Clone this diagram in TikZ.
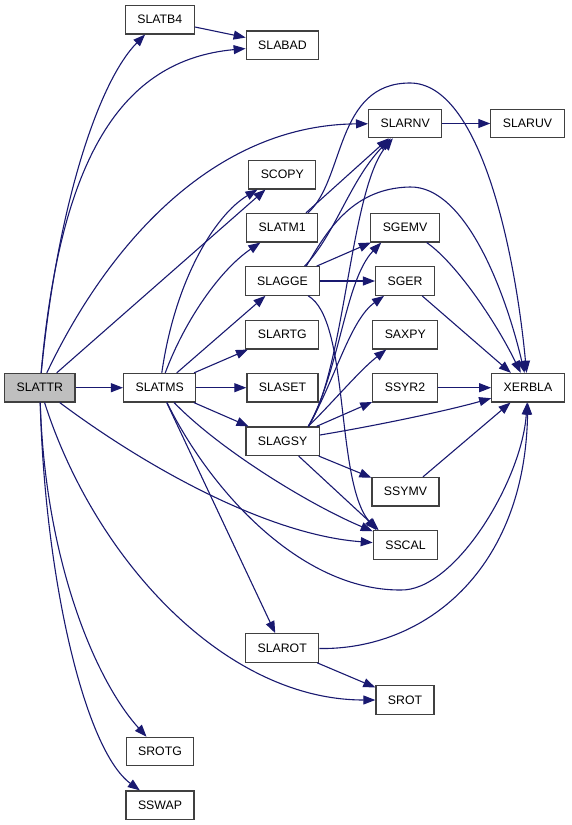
\documentclass[tikz,border=0pt]{standalone}
\usepackage{fontspec}
\setmainfont{Liberation Sans}
\usetikzlibrary{arrows.meta}
\definecolor{edgeblue}{RGB}{25,25,112}
\definecolor{rootgray}{RGB}{191,191,191}
\definecolor{boxline}{RGB}{64,64,64}
\tikzset{
    fn/.style={draw=boxline, line width=1.2pt, fill=white, minimum height=28.5pt,
        inner xsep=12pt, inner ysep=0pt, font=\fontsize{12.3}{14}\selectfont},
    callto/.style={draw=edgeblue, line width=1.1pt, -{Triangle[length=12pt,width=9pt]}}
}
\begin{document}
\begin{tikzpicture}[x=1pt, y=-1pt]
        \useasboundingbox (0,0) rectangle (571,825);
        \node[fn, fill=rootgray] (slattr) at (39.8,387.7) {SLATTR};
        \node[fn] (slatb4) at (159.8,19.7) {SLATB4};
        \node[fn] (slabad) at (282.5,45.2) {SLABAD};
        \node[fn] (slarnv) at (405.2,123.5) {SLARNV};
        \node[fn] (slaruv) at (527.5,123.5) {SLARUV};
        \node[fn] (scopy) at (282.3,174.7) {SCOPY};
        \node[fn] (slatm1) at (282.2,227.7) {SLATM1};
        \node[fn] (slagge) at (282.5,281) {SLAGGE};
        \node[fn] (slartg) at (282.3,334.7) {SLARTG};
        \node[fn] (slatms) at (159.7,387.7) {SLATMS};
        \node[fn] (slaset) at (282.5,387.7) {SLASET};
        \node[fn] (slagsy) at (282.6,441.2) {SLAGSY};
        \node[fn] (sgemv) at (405,227.7) {SGEMV};
        \node[fn] (sger) at (405,281) {SGER};
        \node[fn] (saxpy) at (405.3,334.7) {SAXPY};
        \node[fn] (ssyr2) at (405,387.7) {SSYR2};
        \node[fn] (xerbla) at (528,387.7) {XERBLA};
        \node[fn] (ssymv) at (405.5,491.7) {SSYMV};
        \node[fn] (sscal) at (405.5,545) {SSCAL};
        \node[fn] (slarot) at (282.2,648) {SLAROT};
        \node[fn] (srot) at (405,700) {SROT};
        \node[fn] (srotg) at (160,751.5) {SROTG};
        \node[fn] (sswap) at (160,805.2) {SSWAP};

        \draw[callto] (slattr) .. controls (58,200) and (100,80) .. (slatb4);
        \draw[callto] (slattr) .. controls (60,160) and (120,60) .. (slabad);
        \draw[callto] (slatb4) -- (slabad);
        \draw[callto] (slattr) .. controls (105,250) and (210,125) .. (slarnv);
        \draw[callto] (slattr) -- (scopy);
        \draw[callto] (slattr) -- (slatms);
        \draw[callto] (slattr) .. controls (150,470) and (270,535) .. (sscal);
        \draw[callto] (slattr) .. controls (95,560) and (225,700) .. (srot);
        \draw[callto] (slattr) .. controls (45,560) and (95,680) .. (srotg);
        \draw[callto] (slattr) .. controls (45,580) and (85,750) .. (sswap);
        \draw[callto] (slarnv) -- (slaruv);

        \draw[callto] (slatms) .. controls (175,280) and (215,215) .. (scopy);
        \draw[callto] (slatms) .. controls (185,320) and (220,270) .. (slatm1);
        \draw[callto] (slatms) -- (slagge);
        \draw[callto] (slatms) -- (slartg);
        \draw[callto] (slatms) -- (slaset);
        \draw[callto] (slatms) -- (slagsy);
        \draw[callto] (slatms) .. controls (220,450) and (310,505) .. (sscal);
        \draw[callto] (slatms) .. controls (210,490) and (300,590) .. (400,590)
            .. controls (455,592) and (522,480) .. (xerbla);
        \draw[callto] (slatms) -- (slarot);

        \draw[callto] (slatm1.32) -- (slarnv);
        \draw[callto] (slatm1.30) .. controls (345,180) and (335,83) .. (410,83)
            .. controls (480,83) and (515,250) .. (xerbla);

        \draw[callto] (slagge.34) .. controls (335,235) and (350,180) .. (slarnv);
        \draw[callto] (slagge) -- (sgemv);
        \draw[callto] (slagge) -- (sger);
        \draw[callto] (slagge.32) .. controls (325,235) and (350,188) .. (410,187)
            .. controls (465,186) and (505,290) .. (xerbla);
        \draw[callto] (slagge) .. controls (350,320) and (335,480) .. (sscal.153);

        \draw[callto] (slagsy.30) .. controls (345,370) and (350,190) .. (slarnv);
        \draw[callto] (slagsy.30) .. controls (340,370) and (345,280) .. (sgemv.212);
        \draw[callto] (slagsy.30) .. controls (335,380) and (350,320) .. (sger);
        \draw[callto] (slagsy.30) .. controls (335,400) and (360,370) .. (saxpy);
        \draw[callto] (slagsy) -- (ssyr2);
        \draw[callto] (slagsy) .. controls (380,425) and (450,410) .. (xerbla);
        \draw[callto] (slagsy) -- (ssymv);
        \draw[callto] (slagsy) -- (sscal.151);

        \draw[callto] (sgemv) .. controls (455,262) and (495,320) .. (xerbla);
        \draw[callto] (sger) -- (xerbla);
        \draw[callto] (ssyr2) -- (xerbla);
        \draw[callto] (ssymv) -- (xerbla);
        \draw[callto] (slarot) .. controls (425,650) and (525,570) .. (xerbla);
        \draw[callto] (slarot) -- (srot);
\end{tikzpicture}
\end{document}
